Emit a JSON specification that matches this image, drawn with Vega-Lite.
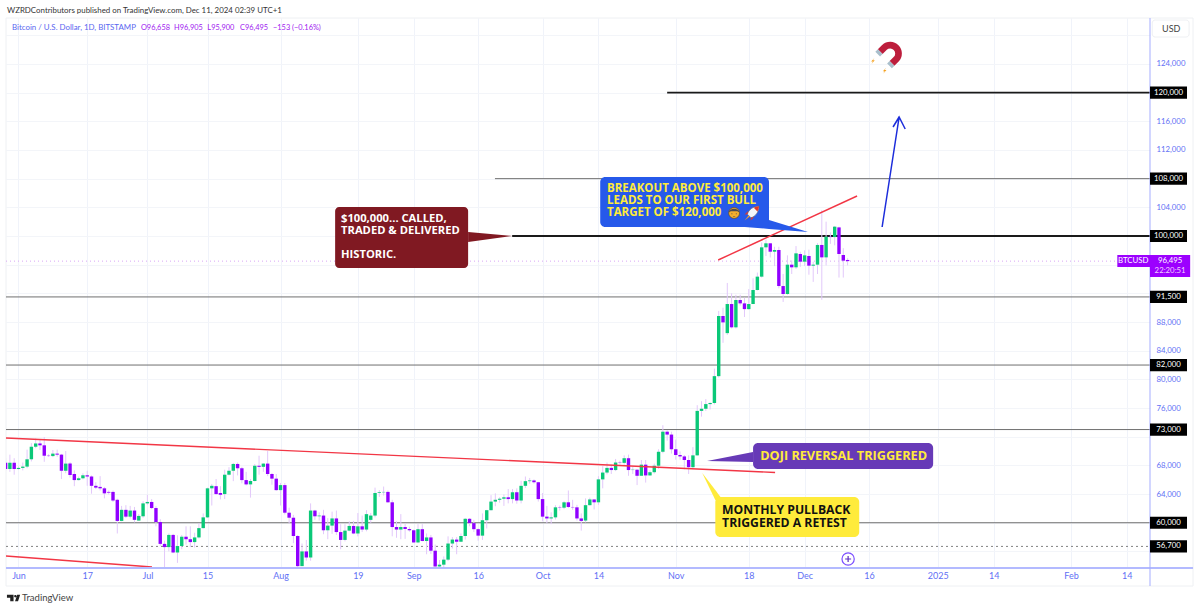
{
  "$schema": "https://vega.github.io/schema/vega-lite/v6.json",
  "autosize": "none",
  "padding": {"left": 6, "top": 18, "right": 50, "bottom": 41},
  "width": 1144,
  "height": 550,
  "background": "white",
  "title": {
    "text": "WZRDContributors published on TradingView.com, Dec 11, 2024 02:39 UTC+1",
    "anchor": "start",
    "frame": "group",
    "offset": 3,
    "dx": 1,
    "fontSize": 7.9,
    "fontWeight": "normal",
    "color": "#333333",
    "font": "Lato"
  },
  "datasets": {
    "candles": [
      {"d":"2024-05-29","o":68380,"h":69000,"l":67200,"c":67500},
      {"d":"2024-05-30","o":67500,"h":69500,"l":67100,"c":68380},
      {"d":"2024-05-31","o":68380,"h":69000,"l":66700,"c":67500},
      {"d":"2024-06-01","o":67500,"h":67850,"l":67400,"c":67650},
      {"d":"2024-06-02","o":67650,"h":68400,"l":67300,"c":67830},
      {"d":"2024-06-03","o":67830,"h":70200,"l":67600,"c":68850},
      {"d":"2024-06-04","o":68850,"h":71100,"l":68550,"c":70600},
      {"d":"2024-06-05","o":70600,"h":71750,"l":70400,"c":71060},
      {"d":"2024-06-06","o":71060,"h":71600,"l":70150,"c":70800},
      {"d":"2024-06-07","o":70800,"h":71950,"l":68500,"c":69350},
      {"d":"2024-06-08","o":69350,"h":69550,"l":69200,"c":69300},
      {"d":"2024-06-09","o":69300,"h":70150,"l":69150,"c":69640},
      {"d":"2024-06-10","o":69640,"h":70200,"l":69200,"c":69500},
      {"d":"2024-06-11","o":69500,"h":69600,"l":66100,"c":67250},
      {"d":"2024-06-12","o":67250,"h":70000,"l":66900,"c":68250},
      {"d":"2024-06-13","o":68250,"h":68450,"l":66300,"c":66650},
      {"d":"2024-06-14","o":66800,"h":67300,"l":65100,"c":65950},
      {"d":"2024-06-15","o":65950,"h":66450,"l":65900,"c":66200},
      {"d":"2024-06-16","o":66200,"h":66900,"l":66050,"c":66620},
      {"d":"2024-06-17","o":66620,"h":67250,"l":65150,"c":66450},
      {"d":"2024-06-18","o":66450,"h":66600,"l":64050,"c":65150},
      {"d":"2024-06-19","o":65150,"h":65650,"l":64700,"c":64900},
      {"d":"2024-06-20","o":65000,"h":66500,"l":64500,"c":64800},
      {"d":"2024-06-21","o":64800,"h":65000,"l":63400,"c":64100},
      {"d":"2024-06-22","o":64300,"h":64500,"l":63950,"c":64200},
      {"d":"2024-06-23","o":64300,"h":64500,"l":62900,"c":63100},
      {"d":"2024-06-24","o":63200,"h":63350,"l":58500,"c":60250},
      {"d":"2024-06-25","o":60250,"h":62350,"l":60200,"c":61800},
      {"d":"2024-06-26","o":61800,"h":62450,"l":60650,"c":60850},
      {"d":"2024-06-27","o":60850,"h":62350,"l":60600,"c":61700},
      {"d":"2024-06-28","o":61700,"h":62200,"l":60050,"c":60400},
      {"d":"2024-06-29","o":60300,"h":61200,"l":60300,"c":60950},
      {"d":"2024-06-30","o":60900,"h":63000,"l":60700,"c":62700},
      {"d":"2024-07-01","o":62700,"h":63900,"l":62500,"c":62900},
      {"d":"2024-07-02","o":62900,"h":63300,"l":61900,"c":62050},
      {"d":"2024-07-03","o":62050,"h":62300,"l":59500,"c":60100},
      {"d":"2024-07-04","o":60100,"h":60500,"l":56800,"c":57050},
      {"d":"2024-07-05","o":57050,"h":57500,"l":53700,"c":56600},
      {"d":"2024-07-06","o":56600,"h":58500,"l":56000,"c":58300},
      {"d":"2024-07-07","o":58300,"h":58450,"l":55750,"c":55850},
      {"d":"2024-07-08","o":55850,"h":58250,"l":54400,"c":56750},
      {"d":"2024-07-09","o":56750,"h":58300,"l":56300,"c":58050},
      {"d":"2024-07-10","o":58050,"h":59500,"l":56950,"c":57700},
      {"d":"2024-07-11","o":57700,"h":59500,"l":56600,"c":57300},
      {"d":"2024-07-12","o":57300,"h":58600,"l":56550,"c":57950},
      {"d":"2024-07-13","o":57950,"h":59900,"l":57800,"c":59250},
      {"d":"2024-07-14","o":59250,"h":61300,"l":59200,"c":60750},
      {"d":"2024-07-15","o":60750,"h":64900,"l":60650,"c":64800},
      {"d":"2024-07-16","o":64800,"h":65400,"l":62400,"c":65150},
      {"d":"2024-07-17","o":65100,"h":66100,"l":63900,"c":64000},
      {"d":"2024-07-18","o":64150,"h":65100,"l":63250,"c":63900},
      {"d":"2024-07-19","o":64000,"h":67400,"l":63300,"c":66700},
      {"d":"2024-07-20","o":66700,"h":67750,"l":66600,"c":67250},
      {"d":"2024-07-21","o":67250,"h":68350,"l":65800,"c":68200},
      {"d":"2024-07-22","o":68200,"h":68400,"l":66600,"c":67600},
      {"d":"2024-07-23","o":67600,"h":67800,"l":65500,"c":65950},
      {"d":"2024-07-24","o":65950,"h":67100,"l":65200,"c":65350},
      {"d":"2024-07-25","o":65350,"h":66100,"l":63500,"c":65820},
      {"d":"2024-07-26","o":65820,"h":68200,"l":65750,"c":67950},
      {"d":"2024-07-27","o":67950,"h":69350,"l":66700,"c":67800},
      {"d":"2024-07-28","o":67800,"h":68300,"l":67100,"c":68250},
      {"d":"2024-07-29","o":68250,"h":70000,"l":66500,"c":66800},
      {"d":"2024-07-30","o":66800,"h":66950,"l":65300,"c":66150},
      {"d":"2024-07-31","o":66150,"h":66800,"l":64450,"c":64550},
      {"d":"2024-08-01","o":64550,"h":65550,"l":62400,"c":65250},
      {"d":"2024-08-02","o":65250,"h":65550,"l":61150,"c":61400},
      {"d":"2024-08-03","o":61400,"h":62100,"l":59900,"c":60700},
      {"d":"2024-08-04","o":60700,"h":61100,"l":57150,"c":58150},
      {"d":"2024-08-05","o":58150,"h":58300,"l":53700,"c":53950},
      {"d":"2024-08-06","o":53950,"h":57100,"l":53950,"c":56000},
      {"d":"2024-08-07","o":56000,"h":57600,"l":54700,"c":55150},
      {"d":"2024-08-08","o":55150,"h":62700,"l":54700,"c":61700},
      {"d":"2024-08-09","o":61700,"h":61800,"l":60400,"c":60900},
      {"d":"2024-08-10","o":60900,"h":61450,"l":60300,"c":61000},
      {"d":"2024-08-11","o":61000,"h":61800,"l":58400,"c":58950},
      {"d":"2024-08-12","o":58950,"h":60650,"l":57700,"c":59600},
      {"d":"2024-08-13","o":59600,"h":61550,"l":58450,"c":60600},
      {"d":"2024-08-14","o":60600,"h":61700,"l":58300,"c":58700},
      {"d":"2024-08-15","o":58700,"h":59800,"l":56300,"c":57600},
      {"d":"2024-08-16","o":57600,"h":59800,"l":57400,"c":58900},
      {"d":"2024-08-17","o":58900,"h":60200,"l":58800,"c":59550},
      {"d":"2024-08-18","o":59550,"h":60250,"l":58400,"c":58500},
      {"d":"2024-08-19","o":58500,"h":61350,"l":58100,"c":59500},
      {"d":"2024-08-20","o":59500,"h":61000,"l":58700,"c":59050},
      {"d":"2024-08-21","o":59050,"h":61750,"l":58800,"c":61200},
      {"d":"2024-08-22","o":60400,"h":61350,"l":60000,"c":61000},
      {"d":"2024-08-23","o":61000,"h":64900,"l":60750,"c":64150},
      {"d":"2024-08-24","o":64150,"h":64550,"l":63600,"c":64250},
      {"d":"2024-08-25","o":64250,"h":65050,"l":63800,"c":64300},
      {"d":"2024-08-26","o":64300,"h":64500,"l":62800,"c":62850},
      {"d":"2024-08-27","o":62850,"h":63200,"l":58100,"c":59400},
      {"d":"2024-08-28","o":59400,"h":60200,"l":57900,"c":59050},
      {"d":"2024-08-29","o":59050,"h":61200,"l":57700,"c":59400},
      {"d":"2024-08-30","o":59400,"h":59900,"l":57750,"c":59130},
      {"d":"2024-08-31","o":59130,"h":59450,"l":58750,"c":58950},
      {"d":"2024-09-01","o":58950,"h":59050,"l":57200,"c":57250},
      {"d":"2024-09-02","o":57250,"h":59800,"l":57150,"c":59100},
      {"d":"2024-09-03","o":59100,"h":59800,"l":57400,"c":57450},
      {"d":"2024-09-04","o":57450,"h":58500,"l":55600,"c":57950},
      {"d":"2024-09-05","o":57950,"h":58300,"l":55650,"c":56100},
      {"d":"2024-09-06","o":56100,"h":56950,"l":53700,"c":53900},
      {"d":"2024-09-07","o":53900,"h":54800,"l":53700,"c":54150},
      {"d":"2024-09-08","o":54150,"h":55300,"l":53700,"c":54850},
      {"d":"2024-09-09","o":54850,"h":58100,"l":54650,"c":57100},
      {"d":"2024-09-10","o":57100,"h":58000,"l":56400,"c":57650},
      {"d":"2024-09-11","o":57650,"h":58000,"l":55600,"c":57350},
      {"d":"2024-09-12","o":57350,"h":58500,"l":57350,"c":58150},
      {"d":"2024-09-13","o":58150,"h":60650,"l":57650,"c":60550},
      {"d":"2024-09-14","o":60550,"h":60650,"l":59500,"c":59950},
      {"d":"2024-09-15","o":59950,"h":60400,"l":58700,"c":59100},
      {"d":"2024-09-16","o":59100,"h":59200,"l":57500,"c":58200},
      {"d":"2024-09-17","o":58200,"h":61300,"l":57600,"c":60350},
      {"d":"2024-09-18","o":60350,"h":61800,"l":59200,"c":61750},
      {"d":"2024-09-19","o":61750,"h":63850,"l":61700,"c":62950},
      {"d":"2024-09-20","o":62950,"h":64100,"l":62300,"c":63200},
      {"d":"2024-09-21","o":63200,"h":63550,"l":62800,"c":63350},
      {"d":"2024-09-22","o":63350,"h":63950,"l":62350,"c":63550},
      {"d":"2024-09-23","o":63550,"h":64700,"l":62700,"c":63300},
      {"d":"2024-09-24","o":63300,"h":64700,"l":62700,"c":64250},
      {"d":"2024-09-25","o":64250,"h":64800,"l":62650,"c":63100},
      {"d":"2024-09-26","o":63100,"h":65850,"l":62700,"c":65150},
      {"d":"2024-09-27","o":65150,"h":66450,"l":64850,"c":65800},
      {"d":"2024-09-28","o":65800,"h":66250,"l":65450,"c":65900},
      {"d":"2024-09-29","o":65900,"h":66050,"l":65450,"c":65650},
      {"d":"2024-09-30","o":65650,"h":65700,"l":62950,"c":63300},
      {"d":"2024-10-01","o":63300,"h":64150,"l":60200,"c":60850},
      {"d":"2024-10-02","o":60850,"h":62350,"l":59950,"c":60600},
      {"d":"2024-10-03","o":60600,"h":61450,"l":59800,"c":60750},
      {"d":"2024-10-04","o":60750,"h":62450,"l":60450,"c":62150},
      {"d":"2024-10-05","o":62150,"h":62400,"l":61700,"c":62100},
      {"d":"2024-10-06","o":62100,"h":63000,"l":61900,"c":62850},
      {"d":"2024-10-07","o":62850,"h":64500,"l":62050,"c":62200},
      {"d":"2024-10-08","o":62200,"h":63200,"l":61800,"c":62150},
      {"d":"2024-10-09","o":62150,"h":62500,"l":60300,"c":60600},
      {"d":"2024-10-10","o":60600,"h":61300,"l":58900,"c":60250},
      {"d":"2024-10-11","o":60300,"h":63400,"l":60050,"c":62450},
      {"d":"2024-10-12","o":62450,"h":63500,"l":62400,"c":63250},
      {"d":"2024-10-13","o":63250,"h":63250,"l":61850,"c":62850},
      {"d":"2024-10-14","o":62850,"h":66500,"l":62500,"c":66050},
      {"d":"2024-10-15","o":66050,"h":67900,"l":64800,"c":67000},
      {"d":"2024-10-16","o":67000,"h":68400,"l":66750,"c":67650},
      {"d":"2024-10-17","o":67650,"h":68100,"l":66800,"c":67350},
      {"d":"2024-10-18","o":67350,"h":68900,"l":67200,"c":68400},
      {"d":"2024-10-19","o":68400,"h":68650,"l":68100,"c":68350},
      {"d":"2024-10-20","o":68350,"h":69400,"l":68100,"c":69000},
      {"d":"2024-10-21","o":69000,"h":69500,"l":66550,"c":67350},
      {"d":"2024-10-22","o":67350,"h":67850,"l":66800,"c":67400},
      {"d":"2024-10-23","o":67400,"h":67450,"l":65250,"c":66550},
      {"d":"2024-10-24","o":66550,"h":68750,"l":66600,"c":68100},
      {"d":"2024-10-25","o":68100,"h":68750,"l":65600,"c":66600},
      {"d":"2024-10-26","o":66600,"h":67300,"l":66550,"c":67050},
      {"d":"2024-10-27","o":67050,"h":68250,"l":66850,"c":67950},
      {"d":"2024-10-28","o":67950,"h":70250,"l":67500,"c":69900},
      {"d":"2024-10-29","o":69900,"h":73600,"l":69700,"c":72700},
      {"d":"2024-10-30","o":72700,"h":72900,"l":71450,"c":72300},
      {"d":"2024-10-31","o":72300,"h":72700,"l":69650,"c":70250},
      {"d":"2024-11-01","o":70250,"h":71600,"l":68800,"c":69450},
      {"d":"2024-11-02","o":69450,"h":69950,"l":68800,"c":69250},
      {"d":"2024-11-03","o":69250,"h":69450,"l":67450,"c":68750},
      {"d":"2024-11-04","o":68750,"h":69400,"l":66800,"c":67750},
      {"d":"2024-11-05","o":67750,"h":70550,"l":67450,"c":69400},
      {"d":"2024-11-06","o":69400,"h":76400,"l":69350,"c":75600},
      {"d":"2024-11-07","o":75600,"h":76950,"l":74800,"c":75900},
      {"d":"2024-11-08","o":75900,"h":77250,"l":75600,"c":76550},
      {"d":"2024-11-09","o":76550,"h":76800,"l":75800,"c":76700},
      {"d":"2024-11-10","o":76700,"h":81500,"l":76500,"c":80450},
      {"d":"2024-11-11","o":80450,"h":89550,"l":80250,"c":88840},
      {"d":"2024-11-12","o":88840,"h":90000,"l":85100,"c":87950},
      {"d":"2024-11-13","o":86450,"h":93450,"l":86200,"c":90510},
      {"d":"2024-11-14","o":90510,"h":92000,"l":87100,"c":87260},
      {"d":"2024-11-15","o":87260,"h":91800,"l":87100,"c":91070},
      {"d":"2024-11-16","o":91070,"h":91800,"l":90300,"c":90600},
      {"d":"2024-11-17","o":90600,"h":91400,"l":88700,"c":89800},
      {"d":"2024-11-18","o":89800,"h":92600,"l":89700,"c":90510},
      {"d":"2024-11-19","o":90510,"h":94100,"l":90500,"c":92470},
      {"d":"2024-11-20","o":92470,"h":94900,"l":92400,"c":94330},
      {"d":"2024-11-21","o":94330,"h":99100,"l":94200,"c":98420},
      {"d":"2024-11-22","o":98420,"h":99500,"l":97200,"c":98980},
      {"d":"2024-11-23","o":98980,"h":98980,"l":97000,"c":97810},
      {"d":"2024-11-24","o":97810,"h":98500,"l":95800,"c":98050},
      {"d":"2024-11-25","o":98050,"h":98500,"l":92700,"c":93020},
      {"d":"2024-11-26","o":93020,"h":94700,"l":90800,"c":91910},
      {"d":"2024-11-27","o":91910,"h":97300,"l":91800,"c":96000},
      {"d":"2024-11-28","o":96000,"h":96600,"l":94700,"c":95630},
      {"d":"2024-11-29","o":95630,"h":98600,"l":95400,"c":97580},
      {"d":"2024-11-30","o":97490,"h":97800,"l":95700,"c":96420},
      {"d":"2024-12-01","o":96420,"h":98000,"l":95800,"c":97300},
      {"d":"2024-12-02","o":97210,"h":98100,"l":94600,"c":95860},
      {"d":"2024-12-03","o":95860,"h":96400,"l":93600,"c":96000},
      {"d":"2024-12-04","o":96000,"h":99000,"l":94700,"c":98750},
      {"d":"2024-12-05","o":98750,"h":103600,"l":91100,"c":97020},
      {"d":"2024-12-06","o":97020,"h":102000,"l":95900,"c":99910},
      {"d":"2024-12-07","o":99910,"h":100500,"l":98900,"c":99850},
      {"d":"2024-12-08","o":99850,"h":101400,"l":98700,"c":101300},
      {"d":"2024-12-09","o":101200,"h":101300,"l":94200,"c":97490},
      {"d":"2024-12-10","o":97350,"h":98300,"l":94200,"c":96560},
      {"d":"2024-12-11","o":96658,"h":96905,"l":95900,"c":96495}
    ],
    "tags": [
      {"x":"2025-02-23T17:00:00Z","v":120000,"label":"120,000"},
      {"x":"2025-02-23T17:00:00Z","v":108000,"label":"108,000"},
      {"x":"2025-02-23T17:00:00Z","v":100000,"label":"100,000"},
      {"x":"2025-02-23T17:00:00Z","v":91500,"label":"91,500"},
      {"x":"2025-02-23T17:00:00Z","v":82000,"label":"82,000"},
      {"x":"2025-02-23T17:00:00Z","v":73000,"label":"73,000"},
      {"x":"2025-02-23T17:00:00Z","v":60000,"label":"60,000"},
      {"x":"2025-02-23T17:00:00Z","v":56700,"label":"56,700"}
    ]
  },
  "encoding": {
    "x": {
      "field": "d",
      "type": "temporal",
      "scale": {"type": "utc", "padding": 0, "domain": ["2024-05-29T02:11:00Z", "2025-02-19T09:36:00Z"]},
      "axis": {
        "title": null,
        "values": ["2024-06-01","2024-06-17","2024-07-01","2024-07-15","2024-08-01","2024-08-19","2024-09-01","2024-09-16","2024-10-01","2024-10-14","2024-11-01","2024-11-18","2024-12-01","2024-12-16","2025-01-01","2025-01-14","2025-02-01","2025-02-14"],
        "labelExpr": "utcdate(datum.value) == 1 ? (utcmonth(datum.value) == 0 ? utcFormat(datum.value, '%Y') : utcFormat(datum.value, '%b')) : utcFormat(datum.value, '%d')",
        "grid": true,
        "gridColor": "#f0f3fa",
        "ticks": false,
        "domain": false,
        "labelColor": "#5f70f5",
        "labelFont": "Lato",
        "labelFontSize": 9,
        "labelPadding": 3,
        "labelOverlap": false
      }
    },
    "y": {
      "type": "quantitative",
      "scale": {"domain": [53686, 130411], "nice": false, "zero": false},
      "axis": {
        "title": null,
        "orient": "right",
        "values": [56000,60000,64000,68000,72000,76000,80000,84000,88000,92000,96000,100000,104000,108000,112000,116000,120000,124000,128000],
        "labelExpr": "indexof([56000,60000,72000,92000,96000,100000,108000,120000,128000], datum.value) >= 0 ? '' : format(datum.value, ',.0f')",
        "grid": true,
        "gridColor": "#f3f5f9",
        "ticks": false,
        "domain": false,
        "labelColor": "#5f70f5",
        "labelFont": "Lato",
        "labelFontSize": 7.8,
        "labelPadding": 6,
        "labelOverlap": false
      }
    }
  },
  "layer": [
    {
      "data": {"values": [
        {"a":"2024-05-29T02:11:00Z","b":"2025-03-01T10:00:00Z","v":130411},
        {"a":"2024-05-29T02:11:00Z","b":"2025-03-01T10:00:00Z","v":51175}
      ]},
      "mark": {"type": "rule", "color": "#eef0f3", "strokeWidth": 1},
      "encoding": {"x": {"field": "a", "type": "temporal"}, "x2": {"field": "b"}, "y": {"field": "v", "type": "quantitative"}}
    },
    {
      "data": {"values": [
        {"a":"2024-05-29T02:11:00Z","v0":130411,"v1":51175},
        {"a":"2025-03-01T10:00:00Z","v0":130411,"v1":51175}
      ]},
      "mark": {"type": "rule", "color": "#eef0f3", "strokeWidth": 1},
      "encoding": {"x": {"field": "a", "type": "temporal"}, "y": {"field": "v0", "type": "quantitative"}, "y2": {"field": "v1"}}
    },
    {
      "data": {"values": [{"a":"2024-05-29T02:11:00Z","b":"2025-02-19T09:36:00Z","v":96495}]},
      "mark": {"type": "rule", "color": "#d9a6f5", "strokeWidth": 1, "strokeDash": [1, 3]},
      "encoding": {"x": {"field": "a", "type": "temporal"}, "x2": {"field": "b"}, "y": {"field": "v", "type": "quantitative"}}
    },
    {
      "data": {"values": [
        {"a":"2024-09-19T22:00:00Z","b":"2025-02-19T09:36:00Z","v":108000},
        {"a":"2024-05-29T02:11:00Z","b":"2025-02-19T09:36:00Z","v":91500},
        {"a":"2024-05-29T02:11:00Z","b":"2025-02-19T09:36:00Z","v":82000},
        {"a":"2024-05-29T02:11:00Z","b":"2025-02-19T09:36:00Z","v":73000},
        {"a":"2024-05-29T02:11:00Z","b":"2025-02-19T09:36:00Z","v":60000}
      ]},
      "mark": {"type": "rule", "color": "#707070", "strokeWidth": 1},
      "encoding": {"x": {"field": "a", "type": "temporal"}, "x2": {"field": "b"}, "y": {"field": "v", "type": "quantitative"}}
    },
    {
      "data": {"values": [{"a":"2024-05-29T02:11:00Z","b":"2025-02-19T09:36:00Z","v":56700}]},
      "mark": {"type": "rule", "color": "#808080", "strokeWidth": 1, "strokeDash": [2, 3]},
      "encoding": {"x": {"field": "a", "type": "temporal"}, "x2": {"field": "b"}, "y": {"field": "v", "type": "quantitative"}}
    },
    {
      "data": {"values": [
        {"a":"2024-10-30T00:00:00Z","b":"2025-02-19T09:36:00Z","v":120000},
        {"a":"2024-09-23T22:00:00Z","b":"2025-02-19T09:36:00Z","v":100000}
      ]},
      "mark": {"type": "rule", "color": "#1a1a1a", "strokeWidth": 1.8},
      "encoding": {"x": {"field": "a", "type": "temporal"}, "x2": {"field": "b"}, "y": {"field": "v", "type": "quantitative"}}
    },
    {
      "data": {"name": "candles"},
      "mark": {"type": "rule", "color": "#e2c8fa", "strokeWidth": 1, "clip": true},
      "encoding": {"y": {"field": "l", "type": "quantitative"}, "y2": {"field": "h"}}
    },
    {
      "data": {"name": "candles"},
      "mark": {"type": "bar", "width": 3.4, "clip": true},
      "encoding": {
        "y": {"field": "o", "type": "quantitative"},
        "y2": {"field": "c"},
        "color": {"condition": {"test": "datum.c >= datum.o", "value": "#0bc878"}, "value": "#9000ff"}
      }
    },
    {
      "data": {"values": [
        {"a":"2024-05-29T02:11:00Z","v":71821,"s":"up"},
        {"a":"2024-11-24T03:00:00Z","v":67008,"s":"up"},
        {"a":"2024-05-29T02:11:00Z","v":55360,"s":"low"},
        {"a":"2024-07-02T02:00:00Z","v":53826,"s":"low"},
        {"a":"2024-11-10T21:00:00Z","v":96652,"s":"top"},
        {"a":"2024-12-13T05:00:00Z","v":105580,"s":"top"}
      ]},
      "mark": {"type": "line", "color": "#f23645", "strokeWidth": 1.4},
      "encoding": {"x": {"field": "a", "type": "temporal"}, "y": {"field": "v", "type": "quantitative"}, "detail": {"field": "s"}}
    },
    {
      "data": {"values": [
        {"i":1,"a":"2024-12-19T01:00:00Z","v":101255},
        {"i":2,"a":"2024-12-23T00:00:00Z","v":116600},
        {"i":3,"a":"2024-12-21T14:00:00Z","v":115205},
        {"i":4,"a":"2024-12-23T00:00:00Z","v":116600},
        {"i":5,"a":"2024-12-24T10:00:00Z","v":114926}
      ]},
      "mark": {"type": "line", "color": "#1c2ddb", "strokeWidth": 1.5},
      "encoding": {"x": {"field": "a", "type": "temporal"}, "y": {"field": "v", "type": "quantitative"}, "order": {"field": "i"}}
    },
    {
      "data": {"values": [
        {"a":"2024-09-13T16:00:00Z","v":100558,"w":99163},
        {"a":"2024-09-23T22:00:00Z","v":100000,"w":100000}
      ]},
      "mark": {"type": "area", "color": "#801922", "orient": "vertical"},
      "encoding": {"x": {"field": "a", "type": "temporal"}, "y": {"field": "v", "type": "quantitative"}, "y2": {"field": "w"}}
    },
    {
      "data": {"values": [
        {"a":"2024-11-17T02:00:00Z","v":101255,"w":101255},
        {"a":"2024-11-22T17:00:00Z","v":102232,"w":100990},
        {"a":"2024-12-01T19:00:00Z","v":100558,"w":100558}
      ]},
      "mark": {"type": "area", "color": "#2659ea", "orient": "vertical"},
      "encoding": {"x": {"field": "a", "type": "temporal"}, "y": {"field": "v", "type": "quantitative"}, "y2": {"field": "w"}}
    },
    {
      "data": {"values": [
        {"a":"2024-11-08T07:00:00Z","v":68612,"w":68612},
        {"a":"2024-11-19T00:00:00Z","v":69868,"w":68473}
      ]},
      "mark": {"type": "area", "color": "#673ab7", "orient": "vertical"},
      "encoding": {"x": {"field": "a", "type": "temporal"}, "y": {"field": "v", "type": "quantitative"}, "y2": {"field": "w"}}
    },
    {
      "data": {"values": [
        {"a":"2024-11-07T04:00:00Z","v":66938,"w":66938},
        {"a":"2024-11-10T05:00:00Z","v":64567,"w":63172},
        {"a":"2024-11-11T10:00:00Z","v":63591,"w":63172}
      ]},
      "mark": {"type": "area", "color": "#ffeb3b", "orient": "vertical"},
      "encoding": {"x": {"field": "a", "type": "temporal"}, "y": {"field": "v", "type": "quantitative"}, "y2": {"field": "w"}}
    },
    {
      "data": {"values": [{"a":"2024-08-13T17:00:00Z","b":"2024-09-13T16:00:00Z","v":104045,"w":95536}]},
      "mark": {"type": "rect", "color": "#801922", "cornerRadius": 4},
      "encoding": {"x": {"field": "a", "type": "temporal"}, "x2": {"field": "b"}, "y": {"field": "v", "type": "quantitative"}, "y2": {"field": "w"}}
    },
    {
      "data": {"values": [{"a":"2024-10-14T10:00:00Z","b":"2024-11-22T17:00:00Z","v":108230,"w":101255}]},
      "mark": {"type": "rect", "color": "#2659ea", "cornerRadius": 5},
      "encoding": {"x": {"field": "a", "type": "temporal"}, "x2": {"field": "b"}, "y": {"field": "v", "type": "quantitative"}, "y2": {"field": "w"}}
    },
    {
      "data": {"values": [{"a":"2024-11-19T00:00:00Z","b":"2024-12-30T22:00:00Z","v":71123,"w":67496}]},
      "mark": {"type": "rect", "color": "#673ab7", "cornerRadius": 5},
      "encoding": {"x": {"field": "a", "type": "temporal"}, "x2": {"field": "b"}, "y": {"field": "v", "type": "quantitative"}, "y2": {"field": "w"}}
    },
    {
      "data": {"values": [{"a":"2024-11-10T05:00:00Z","b":"2024-12-13T17:00:00Z","v":63591,"w":58010}]},
      "mark": {"type": "rect", "color": "#ffeb3b", "cornerRadius": 5},
      "encoding": {"x": {"field": "a", "type": "temporal"}, "x2": {"field": "b"}, "y": {"field": "v", "type": "quantitative"}, "y2": {"field": "w"}}
    },
    {
      "data": {"values": [
        {"a":"2024-08-15T02:00:00Z","v":102372,"t":"$100,000... CALLED,"},
        {"a":"2024-08-15T02:00:00Z","v":100698,"t":"TRADED & DELIVERED"},
        {"a":"2024-08-15T02:00:00Z","v":97350,"t":"HISTORIC."}
      ]},
      "mark": {"type": "text", "align": "left", "baseline": "middle", "color": "white", "font": "Open Sans", "fontWeight": "bold", "fontSize": 11.2},
      "encoding": {"x": {"field": "a", "type": "temporal"}, "y": {"field": "v", "type": "quantitative"}, "text": {"field": "t"}}
    },
    {
      "data": {"values": [
        {"a":"2024-10-16T00:00:00Z","v":106557,"t":"BREAKOUT ABOVE $100,000"},
        {"a":"2024-10-16T00:00:00Z","v":104883,"t":"LEADS TO OUR FIRST BULL"},
        {"a":"2024-10-16T00:00:00Z","v":103209,"t":"TARGET OF $120,000"}
      ]},
      "mark": {"type": "text", "align": "left", "baseline": "middle", "color": "#ffeb3b", "font": "Open Sans", "fontWeight": "bold", "fontSize": 11.5},
      "encoding": {"x": {"field": "a", "type": "temporal"}, "y": {"field": "v", "type": "quantitative"}, "text": {"field": "t"}}
    },
    {
      "data": {"values": [{"a":"2024-12-10T02:00:00Z","v":69310,"t":"DOJI REVERSAL TRIGGERED"}]},
      "mark": {"type": "text", "align": "center", "baseline": "middle", "color": "#ffeb3b", "font": "Open Sans", "fontWeight": "bold", "fontSize": 12.7},
      "encoding": {"x": {"field": "a", "type": "temporal"}, "y": {"field": "v", "type": "quantitative"}, "text": {"field": "t"}}
    },
    {
      "data": {"values": [
        {"a":"2024-11-11T19:00:00Z","v":61777,"t":"MONTHLY PULLBACK"},
        {"a":"2024-11-11T19:00:00Z","v":59964,"t":"TRIGGERED A RETEST"}
      ]},
      "mark": {"type": "text", "align": "left", "baseline": "middle", "color": "#111111", "font": "Open Sans", "fontWeight": "bold", "fontSize": 12.2},
      "encoding": {"x": {"field": "a", "type": "temporal"}, "y": {"field": "v", "type": "quantitative"}, "text": {"field": "t"}}
    },
    {
      "data": {"values": [{"a":"2024-11-14T14:00:00Z","v":103209}]},
      "mark": {"type": "point", "shape": "circle", "filled": true, "color": "#f5ae2c", "stroke": "#5b4a2d", "strokeWidth": 0.7, "opacity": 1, "size": 120},
      "encoding": {"x": {"field": "a", "type": "temporal"}, "y": {"field": "v", "type": "quantitative"}}
    },
    {
      "data": {"values": [{"a":"2024-11-14T14:00:00Z","v":103209}]},
      "mark": {"type": "point", "shape": "M-0.95 -0.1 C-0.9 -1 0.9 -1 0.95 -0.1 L0.6 -0.3 L-0.6 -0.3 Z M-0.5 0.15 A0.1 0.1 0 1 1 -0.3 0.15 A0.1 0.1 0 1 1 -0.5 0.15 M0.3 0.15 A0.1 0.1 0 1 1 0.5 0.15 A0.1 0.1 0 1 1 0.3 0.15 M-0.2 0.55 L0.2 0.55 L0.2 0.65 L-0.2 0.65 Z", "filled": true, "color": "#4a4a52", "opacity": 1, "size": 120},
      "encoding": {"x": {"field": "a", "type": "temporal"}, "y": {"field": "v", "type": "quantitative"}}
    },
    {
      "data": {"values": [{"a":"2024-11-18T19:00:00Z","v":103209}]},
      "mark": {"type": "point", "shape": "M0.85 -0.85 C0.1 -0.85 -0.45 -0.4 -0.6 0.15 L-0.15 0.6 C0.4 0.45 0.85 -0.1 0.85 -0.85 Z", "filled": true, "color": "#f4f6fa", "stroke": "#5f6b7a", "strokeWidth": 0.7, "opacity": 1, "size": 256},
      "encoding": {"x": {"field": "a", "type": "temporal"}, "y": {"field": "v", "type": "quantitative"}}
    },
    {
      "data": {"values": [{"a":"2024-11-18T19:00:00Z","v":103209}]},
      "mark": {"type": "point", "shape": "M0.85 -0.85 C0.55 -0.83 0.35 -0.75 0.2 -0.65 L0.65 -0.2 C0.75 -0.35 0.83 -0.55 0.85 -0.85 Z M-0.6 0.15 L-0.95 0.2 L-0.5 -0.25 Z M-0.15 0.6 L-0.2 0.95 L0.25 0.5 Z", "filled": true, "color": "#e0392b", "opacity": 1, "size": 256},
      "encoding": {"x": {"field": "a", "type": "temporal"}, "y": {"field": "v", "type": "quantitative"}}
    },
    {
      "data": {"values": [{"a":"2024-11-18T19:00:00Z","v":103209}]},
      "mark": {"type": "point", "shape": "M-0.45 0.3 L-0.95 0.95 L-0.3 0.45 Z", "filled": true, "color": "#f59a23", "opacity": 1, "size": 256},
      "encoding": {"x": {"field": "a", "type": "temporal"}, "y": {"field": "v", "type": "quantitative"}}
    },
    {
      "data": {"values": [{"a":"2024-12-20T23:00:00Z","v":125487}]},
      "mark": {"type": "point", "shape": "M-0.676 -0.111 L-0.393 -0.393 A0.556 0.556 0 0 1 0.393 0.393 L0.111 0.676", "filled": false, "color": "#bd1e3c", "strokeWidth": 6.7, "opacity": 1, "size": 900},
      "encoding": {"x": {"field": "a", "type": "temporal"}, "y": {"field": "v", "type": "quantitative"}}
    },
    {
      "data": {"values": [{"a":"2024-12-20T23:00:00Z","v":125487}]},
      "mark": {"type": "point", "shape": "M-0.676 -0.111 L-0.844 0.056 M0.111 0.676 L-0.056 0.844", "filled": false, "color": "#a9bfcc", "strokeWidth": 6.7, "opacity": 1, "size": 900},
      "encoding": {"x": {"field": "a", "type": "temporal"}, "y": {"field": "v", "type": "quantitative"}}
    },
    {
      "data": {"values": [{"a":"2024-12-20T23:00:00Z","v":125487}]},
      "mark": {"type": "point", "shape": "M-1.06 0.31 L-1.28 0.54 L-1.16 0.54 L-1.26 0.71 L-1.04 0.46 L-1.16 0.46 Z M-0.28 0.96 L-0.5 1.19 L-0.38 1.19 L-0.48 1.36 L-0.26 1.11 L-0.38 1.11 Z", "filled": true, "color": "#f5a11e", "opacity": 1, "size": 900},
      "encoding": {"x": {"field": "a", "type": "temporal"}, "y": {"field": "v", "type": "quantitative"}}
    },
    {
      "data": {"values": [{"a":"2024-12-11T03:00:00Z","v":54941}]},
      "mark": {"type": "point", "shape": "circle", "filled": false, "color": "#7a4dff", "strokeWidth": 1.2, "opacity": 1, "size": 150},
      "encoding": {"x": {"field": "a", "type": "temporal"}, "y": {"field": "v", "type": "quantitative"}}
    },
    {
      "data": {"values": [{"a":"2024-12-11T03:00:00Z","v":54941}]},
      "mark": {"type": "point", "shape": "M-1 0 L1 0 M0 -1 L0 1", "filled": false, "color": "#5b2dbf", "strokeWidth": 1.2, "opacity": 1, "size": 36},
      "encoding": {"x": {"field": "a", "type": "temporal"}, "y": {"field": "v", "type": "quantitative"}}
    },
    {
      "data": {"values": [
        {"a":"2024-05-29T02:11:00Z","b":"2025-03-01T10:00:00Z","v":53686}
      ]},
      "mark": {"type": "rule", "color": "#b3baff", "strokeWidth": 2},
      "encoding": {"x": {"field": "a", "type": "temporal"}, "x2": {"field": "b"}, "y": {"field": "v", "type": "quantitative"}}
    },
    {
      "data": {"values": [{"a":"2025-02-19T09:36:00Z","v0":130411,"v1":51175}]},
      "mark": {"type": "rule", "color": "#a5adff", "strokeWidth": 1},
      "encoding": {"x": {"field": "a", "type": "temporal"}, "y": {"field": "v0", "type": "quantitative"}, "y2": {"field": "v1"}}
    },
    {
      "data": {"name": "tags"},
      "mark": {"type": "point", "shape": "M-1 -0.33 L1 -0.33 L1 0.33 L-1 0.33 Z", "filled": true, "color": "black", "opacity": 1, "size": 1369},
      "encoding": {"x": {"field": "x", "type": "temporal"}, "y": {"field": "v", "type": "quantitative"}}
    },
    {
      "data": {"name": "tags"},
      "mark": {"type": "text", "align": "center", "baseline": "middle", "color": "white", "font": "Lato", "fontSize": 7.8},
      "encoding": {"x": {"field": "x", "type": "temporal"}, "y": {"field": "v", "type": "quantitative"}, "text": {"field": "label"}}
    },
    {
      "data": {"values": [
        {"a":"2025-02-11T19:00:00Z","b":"2025-02-19T09:36:00Z","v":97350,"w":95675},
        {"a":"2025-02-19T09:36:00Z","b":"2025-02-28T18:00:00Z","v":97350,"w":94280}
      ]},
      "mark": {"type": "rect", "color": "#9c00ff"},
      "encoding": {"x": {"field": "a", "type": "temporal"}, "x2": {"field": "b"}, "y": {"field": "v", "type": "quantitative"}, "y2": {"field": "w"}}
    },
    {
      "data": {"values": [
        {"a":"2025-02-15T12:00:00Z","v":96512,"t":"BTCUSD"},
        {"a":"2025-02-24T02:00:00Z","v":96512,"t":"96,495"}
      ]},
      "mark": {"type": "text", "align": "center", "baseline": "middle", "color": "white", "font": "Lato", "fontSize": 7.8},
      "encoding": {"x": {"field": "a", "type": "temporal"}, "y": {"field": "v", "type": "quantitative"}, "text": {"field": "t"}}
    },
    {
      "data": {"values": [{"a":"2025-02-24T02:00:00Z","v":95118,"t":"22:20:51"}]},
      "mark": {"type": "text", "align": "center", "baseline": "middle", "color": "#f2cfff", "font": "Lato", "fontSize": 7.8},
      "encoding": {"x": {"field": "a", "type": "temporal"}, "y": {"field": "v", "type": "quantitative"}, "text": {"field": "t"}}
    },
    {
      "data": {"values": [{"a":"2025-02-19T22:00:00Z","b":"2025-02-28T12:00:00Z","v":130132,"w":127760}]},
      "mark": {"type": "rect", "fill": "white", "stroke": "#eef0f3", "cornerRadius": 3},
      "encoding": {"x": {"field": "a", "type": "temporal"}, "x2": {"field": "b"}, "y": {"field": "v", "type": "quantitative"}, "y2": {"field": "w"}}
    },
    {
      "data": {"values": [{"a":"2025-02-24T08:00:00Z","v":128876,"t":"USD"}]},
      "mark": {"type": "text", "align": "center", "baseline": "middle", "color": "#444444", "font": "Lato", "fontSize": 9},
      "encoding": {"x": {"field": "a", "type": "temporal"}, "y": {"field": "v", "type": "quantitative"}, "text": {"field": "t"}}
    },
    {
      "data": {"values": [{"a":"2024-05-30T12:00:00Z","v":129016,"t":"Bitcoin / U.S. Dollar, 1D, BITSTAMP"}]},
      "mark": {"type": "text", "align": "left", "baseline": "middle", "color": "#5a67f0", "font": "Lato", "fontSize": 7.9},
      "encoding": {"x": {"field": "a", "type": "temporal"}, "y": {"field": "v", "type": "quantitative"}, "text": {"field": "t"}}
    },
    {
      "data": {"values": [
        {"a":"2024-06-29T12:00:00Z","v":129016,"t":"O96,658"},
        {"a":"2024-07-07T05:00:00Z","v":129016,"t":"H96,905"},
        {"a":"2024-07-14T23:00:00Z","v":129016,"t":"L95,900"},
        {"a":"2024-07-22T14:00:00Z","v":129016,"t":"C96,495"},
        {"a":"2024-07-30T06:00:00Z","v":129016,"t":"−153 (−0.16%)"}
      ]},
      "mark": {"type": "text", "align": "left", "baseline": "middle", "color": "#a020f0", "font": "Lato", "fontSize": 7.4},
      "encoding": {"x": {"field": "a", "type": "temporal"}, "y": {"field": "v", "type": "quantitative"}, "text": {"field": "t"}}
    },
    {
      "data": {"values": [{"a":"2024-05-30T17:00:00Z","v":49501}]},
      "mark": {"type": "point", "shape": "M-1 -0.55 L0.1 -0.55 L0.1 0.55 L-0.45 0.55 L-0.45 -0.05 L-1 -0.05 Z M0.2 -0.3 A0.2 0.2 0 1 1 0.6 -0.3 A0.2 0.2 0 1 1 0.2 -0.3 M0.35 0.55 L0.7 -0.55 L1.2 -0.55 L0.85 0.55 Z", "filled": true, "color": "#222222", "opacity": 1, "size": 144},
      "encoding": {"x": {"field": "a", "type": "temporal"}, "y": {"field": "v", "type": "quantitative"}}
    },
    {
      "data": {"values": [{"a":"2024-06-01T19:00:00Z","v":49501,"t":"TradingView"}]},
      "mark": {"type": "text", "align": "left", "baseline": "middle", "color": "#444444", "font": "Lato", "fontSize": 9.5},
      "encoding": {"x": {"field": "a", "type": "temporal"}, "y": {"field": "v", "type": "quantitative"}, "text": {"field": "t"}}
    }
  ],
  "config": {"view": {"stroke": null}}
}
